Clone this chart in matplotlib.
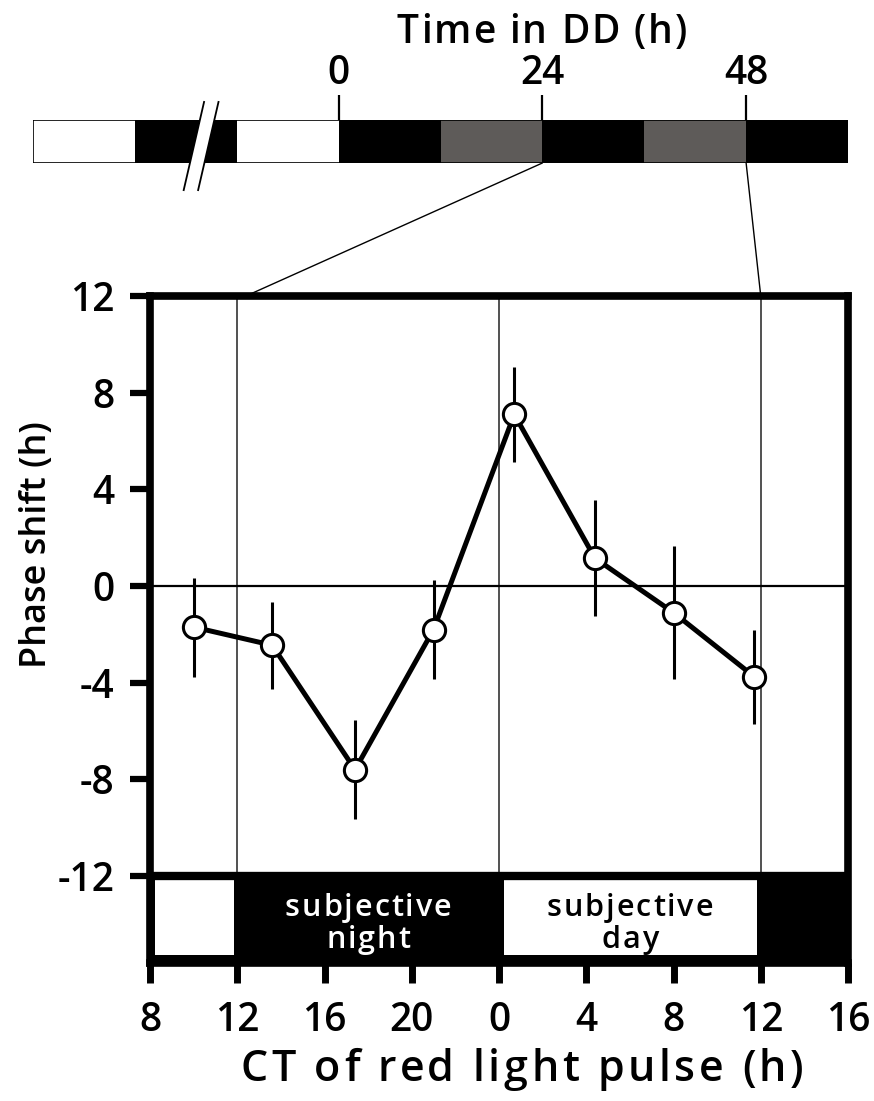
import matplotlib
matplotlib.use("Agg")
import matplotlib.pyplot as plt
from matplotlib.patches import Rectangle, Polygon, ConnectionPatch

plt.rcParams['font.family'] = ['Open Sans', 'DejaVu Sans']

# ---------------- data ----------------
ct_pos = [10, 13.6, 17.4, 21, 24.7, 28.4, 32, 35.7]
phase_shift = [-1.7, -2.45, -7.6, -1.8, 7.1, 1.15, -1.1, -3.75]
phase_err = [2.05, 1.8, 2.05, 2.05, 1.95, 2.4, 2.75, 1.95]

xticks = [8, 12, 16, 20, 24, 28, 32, 36, 40]
xtick_labels = ['8', '12', '16', '20', '0', '4', '8', '12', '16']
yticks = [12, 8, 4, 0, -4, -8, -12]
ytick_labels = ['12', '8', '4', '0', '-4', '-8', '-12']

# subjective day / night bar (CT positions on continuous axis)
subj_white = [(8, 12), (24, 36)]
subj_labels = [['subjective', 'night'], ['subjective', 'day']]
subj_label_pos = [18, 30]
subj_label_colors = ['white', 'black']

# top light regime bar (hours in DD)
top_starts = [-36, -24, -12, 0, 12, 24, 36, 48]
top_colors = ['white', 'black', 'white', 'black', '#5e5b59', 'black', '#5e5b59', 'black']
top_ticks = [0, 24, 48]
top_tick_labels = ['0', '24', '48']
seg_len = 12
break_at = -16.2
zoom_from = [24, 48]
zoom_to = [12.4, 36]

W, H = 874, 1101
fig = plt.figure(figsize=(W / 100, H / 100), dpi=100)
renderer = fig.canvas.get_renderer()


def fr(x0, y0, x1, y1):
    return [x0 / W, 1 - y1 / H, (x1 - x0) / W, (y1 - y0) / H]


def _w(s, **kw):
    t = fig.text(0, 0, s, **kw)
    w = t.get_window_extent(renderer).width
    t.remove()
    return w


def tracked_text(s, x_px, y_px, track, **kw):
    """Draw string centred at x_px with baseline at y_px (pixels) with extra letter spacing."""
    hw = _w('H', **kw)
    offs = [0.0]
    for i in range(1, len(s)):
        offs.append(_w(s[:i] + 'H', **kw) - hw)
    total = _w(s, **kw) + track * (len(s) - 1)
    x0 = x_px - total / 2
    for i, ch in enumerate(s):
        if ch == ' ':
            continue
        fig.text((x0 + offs[i] + i * track) / W, 1 - y_px / H, ch,
                 ha='left', va='baseline', **kw)


# ---------------- main axes ----------------
ax = fig.add_axes(fr(150, 296, 848, 963))
ax.set_xlim(8, 40)
ax.set_ylim(-15.6, 12)

# subjective bar
ax.add_patch(Rectangle((8, -15.6), 32, 3.6, facecolor='black', edgecolor='none', zorder=1))
for (a, b) in subj_white:
    ax.add_patch(Rectangle((a + 0.23, -15.27), (b - a) - 0.4, 3.1,
                           facecolor='white', edgecolor='none', zorder=2))

# reference lines
for xv in [12, 24, 36]:
    ax.plot([xv, xv], [-12, 12], color='#222222', lw=1.1, zorder=1)
ax.plot([8, 40], [0, 0], color='black', lw=1.6, zorder=1)
ax.plot([8, 40], [-12, -12], color='black', lw=6, zorder=2, solid_capstyle='butt')

# data
ax.errorbar(ct_pos, phase_shift, yerr=phase_err, fmt='none', ecolor='black',
            elinewidth=2.2, capsize=0, zorder=3)
ax.plot(ct_pos, phase_shift, color='black', lw=3.6, zorder=4,
        marker='o', markersize=16, markerfacecolor='white',
        markeredgecolor='black', markeredgewidth=2.2)

for s in ['left', 'right', 'top', 'bottom']:
    ax.spines[s].set_linewidth(5.5)
ax.set_xticks(xticks)
ax.set_xticklabels(xtick_labels)
ax.set_yticks(yticks)
ax.set_yticklabels(ytick_labels)
ax.tick_params(axis='x', direction='out', length=14.5, width=5, pad=13, labelsize=28)
ax.tick_params(axis='y', direction='out', length=14.5, width=4.5, pad=11, labelsize=28)
for lab in ax.get_xticklabels() + ax.get_yticklabels():
    lab.set_fontweight('semibold')
ax.set_ylabel('Phase shift (h)', fontsize=26, fontweight='semibold')
ax.yaxis.set_label_coords(-0.136, 0.627)

# subjective bar labels
for lines, xp, col in zip(subj_labels, subj_label_pos, subj_label_colors):
    xpx = ax.transData.transform((xp, 0))[0]
    for j, line in enumerate(lines):
        tracked_text(line, xpx, 916 + 32 * j, 2.0, fontsize=22,
                     fontweight='semibold', color=col, zorder=5)

# x label with letter spacing
tracked_text('CT of red light pulse (h)', 522, 1081, 3.6, fontsize=31,
             fontweight='semibold')

# ---------------- top bar ----------------
axt = fig.add_axes(fr(33, 120, 848, 163))
axt.set_xlim(top_starts[0], top_starts[-1] + seg_len)
axt.set_ylim(0, 1)
for st, c in zip(top_starts, top_colors):
    axt.add_patch(Rectangle((st, 0), seg_len, 1, facecolor=c, edgecolor='none'))
axt.add_patch(Rectangle((top_starts[0], 0), top_starts[-1] + seg_len - top_starts[0], 1,
                        facecolor='none', edgecolor='black', lw=1.2))
# break marks
poly = Polygon([(break_at - 0.85 - 1.2, -0.63), (break_at + 0.85 - 1.2, -0.63),
                (break_at + 0.85 + 1.2, 1.42), (break_at - 0.85 + 1.2, 1.42)],
               closed=True, facecolor='white', edgecolor='none', clip_on=False, zorder=3)
axt.add_patch(poly)
for off in [-0.85, 0.85]:
    axt.plot([break_at + off - 1.2, break_at + off + 1.2], [-0.63, 1.42], color='black',
             lw=1.3, clip_on=False, zorder=4)
for s in axt.spines.values():
    s.set_visible(False)
axt.set_yticks([])
axt.xaxis.tick_top()
axt.set_xticks(top_ticks)
axt.set_xticklabels(top_tick_labels)
axt.tick_params(axis='x', direction='out', length=18, width=1.6, pad=1, labelsize=28)
for lab in axt.get_xticklabels():
    lab.set_fontweight('semibold')
tracked_text('Time in DD (h)', 542, 43, 2.0, fontsize=28, fontweight='semibold')

# connector lines
for a, b in zip(zoom_from, zoom_to):
    con = ConnectionPatch(xyA=(a, 0), coordsA=axt.transData, xyB=(b, 12),
                          coordsB=ax.transData, color='black', lw=1.0)
    fig.add_artist(con)

fig.savefig('out.png', dpi=100)
